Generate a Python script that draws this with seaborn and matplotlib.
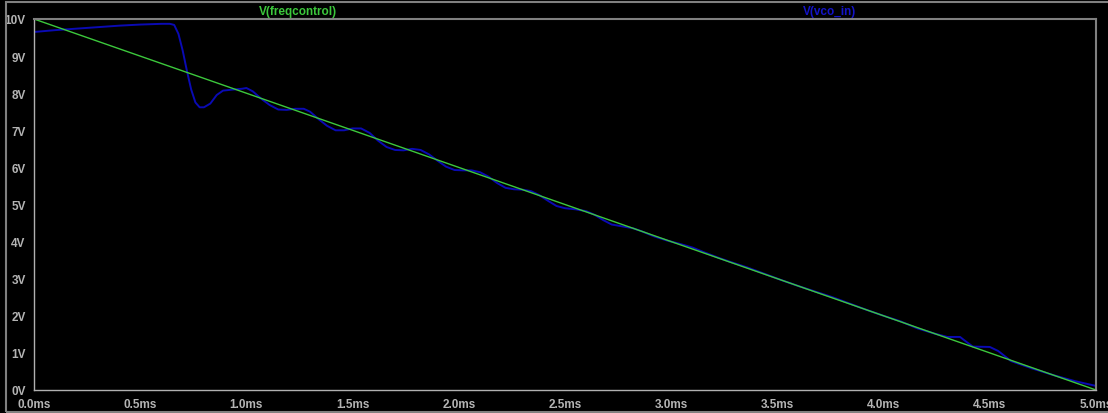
import numpy as np
import pandas as pd
import matplotlib
matplotlib.use("Agg")
import matplotlib.pyplot as plt
import seaborn as sns
from matplotlib.patches import Rectangle

# V(freqcontrol): straight ramp from 10V down to 0V
freq_t = [0.0, 5.0]
freq_v = [10.0, 0.0]

# V(vco_in): values (time in ms, volts)
vco_t = [0.00, 0.10, 0.20, 0.30, 0.40, 0.50, 0.60, 0.64, 0.66, 0.68,
         0.70, 0.72, 0.74, 0.76, 0.78, 0.80, 0.83, 0.86, 0.89, 0.94,
         0.98, 1.00, 1.03, 1.07, 1.11, 1.15, 1.19, 1.23, 1.27, 1.30,
         1.34, 1.38, 1.42, 1.46, 1.50, 1.54, 1.58, 1.62, 1.66, 1.70,
         1.74, 1.78, 1.82, 1.86, 1.90, 1.94, 1.98, 2.02, 2.06, 2.10,
         2.14, 2.18, 2.22, 2.26, 2.30, 2.34, 2.38, 2.42, 2.46, 2.50,
         2.55, 2.60, 2.64, 2.68, 2.72, 2.76, 2.82, 2.86, 2.92, 2.98,
         3.04, 3.10, 3.16, 3.22, 3.28, 3.36, 3.44, 3.52, 3.60, 3.68,
         3.76, 3.84, 3.92, 4.00, 4.08, 4.16, 4.24, 4.30, 4.36, 4.38,
         4.42, 4.50, 4.54, 4.60, 4.70, 4.80, 4.90, 5.00]
vco_v = [9.65, 9.70, 9.74, 9.78, 9.82, 9.85, 9.87, 9.87, 9.84, 9.60,
         9.15, 8.60, 8.10, 7.75, 7.62, 7.62, 7.72, 7.95, 8.07, 8.10,
         8.12, 8.14, 8.05, 7.85, 7.68, 7.56, 7.55, 7.58, 7.58, 7.50,
         7.30, 7.12, 7.00, 7.00, 7.05, 7.05, 6.93, 6.72, 6.55, 6.47,
         6.46, 6.50, 6.47, 6.35, 6.18, 6.02, 5.93, 5.92, 5.92, 5.87,
         5.75, 5.58, 5.45, 5.41, 5.40, 5.36, 5.25, 5.10, 4.96, 4.90,
         4.87, 4.82, 4.72, 4.58, 4.46, 4.42, 4.36, 4.28, 4.14, 4.03,
         3.94, 3.84, 3.70, 3.57, 3.45, 3.30, 3.13, 2.96, 2.80, 2.65,
         2.50, 2.33, 2.16, 2.00, 1.85, 1.66, 1.52, 1.43, 1.43, 1.34,
         1.17, 1.16, 1.05, 0.78, 0.58, 0.40, 0.24, 0.11]

x_ticks = [0.0, 0.5, 1.0, 1.5, 2.0, 2.5, 3.0, 3.5, 4.0, 4.5, 5.0]
y_ticks = [0, 1, 2, 3, 4, 5, 6, 7, 8, 9, 10]

GREEN = "#3cc83c"
BLUE = "#0a0ab4"
LABEL = "#b4b4b4"

sns.set_style("dark", {"axes.facecolor": "black", "figure.facecolor": "black"})
plt.rcParams["font.family"] = ["Liberation Sans", "DejaVu Sans"]

fig = plt.figure(figsize=(11.08, 4.14), dpi=100)
fig.patch.set_facecolor("black")
fig.patches.append(Rectangle((6 / 1108, 1 / 414), 1.2, 410 / 414, transform=fig.transFigure,
                             fill=False, edgecolor="#808080", linewidth=1.5))

ax = fig.add_axes([34 / 1108, 1 - 391 / 414, 1062 / 1108, 371 / 414])
ax.set_facecolor("black")

df_vco = pd.DataFrame({"t": vco_t, "v": vco_v})
df_freq = pd.DataFrame({"t": freq_t, "v": freq_v})
sns.lineplot(data=df_vco, x="t", y="v", color=BLUE, linewidth=1.4, estimator=None, ax=ax)
sns.lineplot(data=df_freq, x="t", y="v", color=GREEN, linewidth=1.0, estimator=None, ax=ax)

ax.set_xlim(0, 5)
ax.set_ylim(0, 10)
ax.set_xticks(x_ticks)
ax.set_xticklabels([f"{t:.1f}ms" for t in x_ticks])
ax.set_yticks(y_ticks)
ax.set_yticklabels([f"{v}V" for v in y_ticks])
ax.set_xlabel("")
ax.set_ylabel("")
ax.grid(False)

ax.tick_params(axis="both", colors="#a0a0a0", labelcolor=LABEL, labelsize=8.5,
               direction="out", length=4, width=1)
ax.tick_params(axis="x", pad=2)
ax.tick_params(axis="y", pad=2)
for lab in ax.get_xticklabels() + ax.get_yticklabels():
    lab.set_fontweight("bold")

for side in ["top", "right"]:
    ax.spines[side].set_color("#808080")
    ax.spines[side].set_linewidth(1.5)
for side in ["left", "bottom"]:
    ax.spines[side].set_color("#b0b0b0")
    ax.spines[side].set_linewidth(1.0)

fig.text(298 / 1108, 1 - 12 / 414, "V(freqcontrol)", color=GREEN, fontsize=8.5,
         fontweight="bold", ha="center", va="center")
fig.text(830 / 1108, 1 - 12 / 414, "V(vco_in)", color="#1414c8", fontsize=8.5,
         fontweight="bold", ha="center", va="center")

fig.savefig("out.png", dpi=100, facecolor="black")
